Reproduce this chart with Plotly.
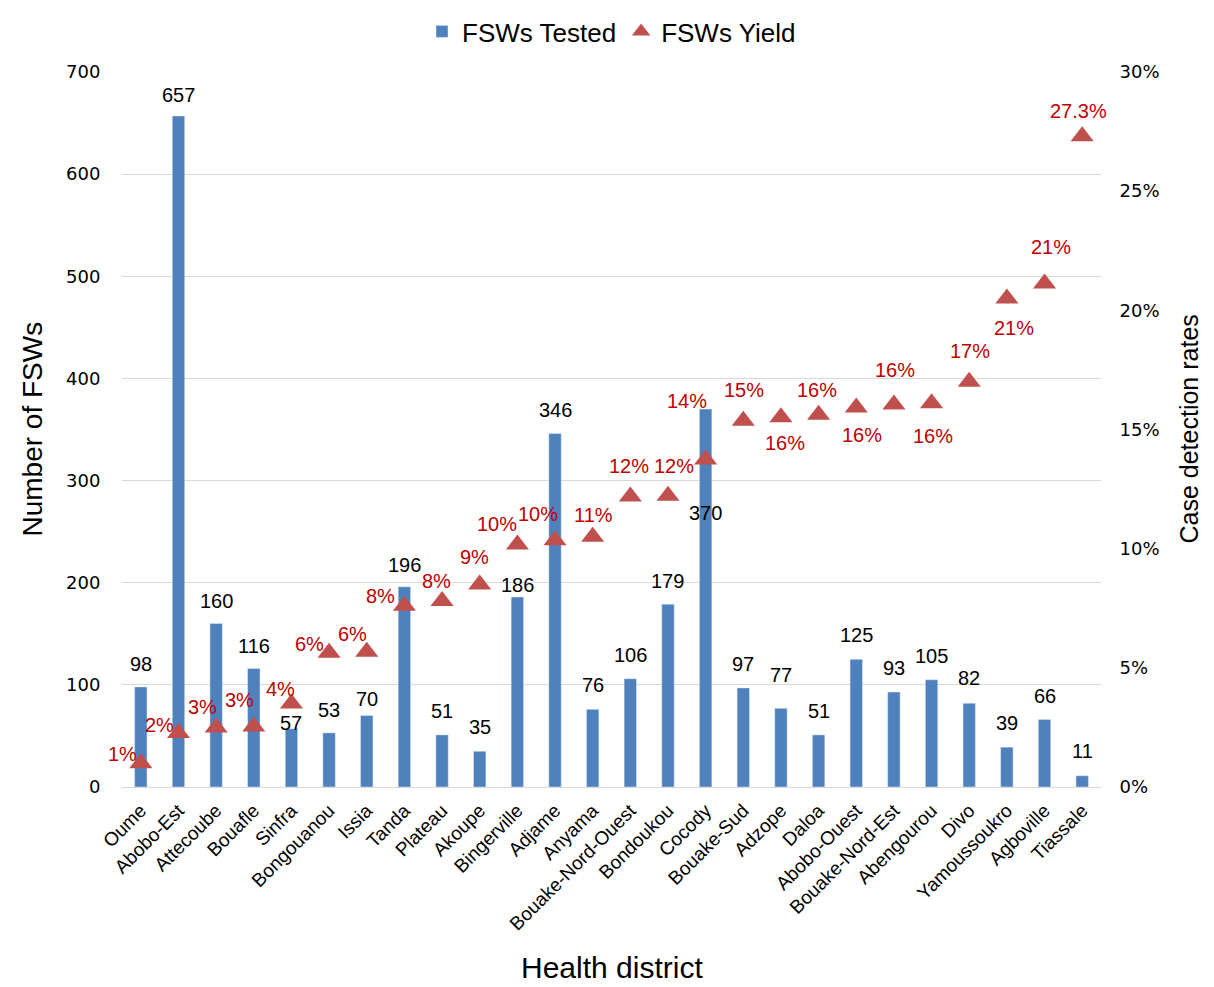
import plotly.graph_objects as go

categories = ["Oume", "Abobo-Est", "Attecoube", "Bouafle", "Sinfra", "Bongouanou", "Issia",
              "Tanda", "Plateau", "Akoupe", "Bingerville", "Adjame", "Anyama",
              "Bouake-Nord-Ouest", "Bondoukou", "Cocody", "Bouake-Sud", "Adzope", "Daloa",
              "Abobo-Ouest", "Bouake-Nord-Est", "Abengourou", "Divo", "Yamoussoukro",
              "Agboville", "Tiassale"]
tested = [98, 657, 160, 116, 57, 53, 70, 196, 51, 35, 186, 346, 76, 106, 179, 370,
          97, 77, 51, 125, 93, 105, 82, 39, 66, 11]
yield_rate = [0.010, 0.0227, 0.025, 0.0254, 0.035, 0.0563, 0.0568, 0.076, 0.078, 0.085,
              0.1017, 0.1035, 0.105, 0.1219, 0.1222, 0.1374, 0.1537, 0.1551, 0.1562,
              0.1592, 0.1605, 0.161, 0.170, 0.205, 0.2113, 0.273]
yield_labels = ["1%", "2%", "3%", "3%", "4%", "6%", "6%", "8%", "8%", "9%", "10%", "10%",
                "11%", "12%", "12%", "14%", "15%", "16%", "16%", "16%", "16%", "16%",
                "17%", "21%", "21%", "27.3%"]

# label offsets in pixels (styles, kept separate from data)
bar_lab_dy = [-23, -21, -23, -23, -6, -23, -17, -22, -24, -24, -12, -24, -24, -24, -23,
              104, -24, -33, -24, -24, -24, -24, -25, -24, -24, -25]
yld_lab_dx = [-18, -19, -14, -14, -11, -20, -14, -24, -6, -5, -20, -17, 1, -1, 6, -19,
              1, 4, -2, 6, 1, 1, 1, 7, 6, -4]
yld_lab_dy = [-9, -8, -20, -26, -15, -9, -18, -10, -20, -27, -21, -26, -22, -30, -30, -59,
              -31, 26, -25, 27, -34, 33, -31, 30, -36, -25]

BAR = "#4F81BD"
TRI = "#C0504D"
LAB_RED = "#C00000"
GRID = "#D9D9D9"
FONT = "Liberation Sans, Arial, sans-serif"
TICKFONT = "DejaVu Sans, sans-serif"

fig = go.Figure()
fig.add_trace(go.Bar(x=categories, y=tested, name="FSWs Tested", marker_color=BAR,
                     width=0.33, yaxis="y"))
fig.add_trace(go.Scatter(x=categories, y=yield_rate, name="FSWs Yield", mode="markers",
                         marker=dict(symbol="triangle-up", size=20, color=TRI),
                         yaxis="y2"))

annotations = []
for c, v, dy in zip(categories, tested, bar_lab_dy):
    annotations.append(dict(x=c, y=v, xref="x", yref="y", text=str(v), showarrow=False,
                            xanchor="center", yanchor="middle", yshift=-dy,
                            font=dict(family=FONT, size=20, color="#000000")))
for c, v, t, dx, dy in zip(categories, yield_rate, yield_labels, yld_lab_dx, yld_lab_dy):
    annotations.append(dict(x=c, y=v, xref="x", yref="y2", text=t, showarrow=False,
                            xanchor="center", yanchor="middle", xshift=dx, yshift=-dy,
                            font=dict(family=FONT, size=20, color=LAB_RED)))
# axis titles
annotations.append(dict(x=0, y=0.5, xref="paper", yref="paper", text="Number of FSWs",
                        textangle=-90, showarrow=False, xshift=-90, xanchor="center",
                        yanchor="middle", font=dict(family=FONT, size=28, color="#000000")))
annotations.append(dict(x=1, y=0.5, xref="paper", yref="paper", text="Case detection rates",
                        textangle=-90, showarrow=False, xshift=87, xanchor="center",
                        yanchor="middle", font=dict(family=FONT, size=25, color="#000000")))
annotations.append(dict(x=0.5, y=0, xref="paper", yref="paper", text="Health district",
                        showarrow=False, yshift=-180, xanchor="center", yanchor="middle",
                        font=dict(family=FONT, size=30, color="#000000")))

fig.update_layout(
    width=1206, height=979,
    margin=dict(l=114, r=113, t=64, b=200, autoexpand=False),
    paper_bgcolor="white", plot_bgcolor="white",
    showlegend=True,
    legend=dict(orientation="h", x=0.5, xanchor="center", y=1.0, yanchor="top",
                yref="container", font=dict(family=FONT, size=26, color="#000000"),
                itemsizing="trace", traceorder="normal", bgcolor="rgba(0,0,0,0)"),
    xaxis=dict(range=[-0.5, 25.5], tickangle=-45,
               tickfont=dict(family=FONT, size=19, color="#000000"),
               showgrid=False, showline=False, ticks="outside", ticklen=4,
               tickcolor="rgba(0,0,0,0)"),
    yaxis=dict(range=[0, 700], dtick=100, showgrid=True, gridcolor=GRID, gridwidth=1,
               zeroline=True, zerolinecolor=GRID, zerolinewidth=1, showline=False,
               tickfont=dict(family=TICKFONT, size=18, color="#000000"),
               ticks="outside", ticklen=17, tickcolor="rgba(0,0,0,0)"),
    yaxis2=dict(range=[0, 0.30], dtick=0.05, tickformat=".0%", overlaying="y",
                side="right", showgrid=False, zeroline=False, showline=False,
                tickfont=dict(family=TICKFONT, size=18, color="#000000"),
                ticks="outside", ticklen=14, tickcolor="rgba(0,0,0,0)"),
    annotations=annotations,
)

fig.write_html("out.html")
